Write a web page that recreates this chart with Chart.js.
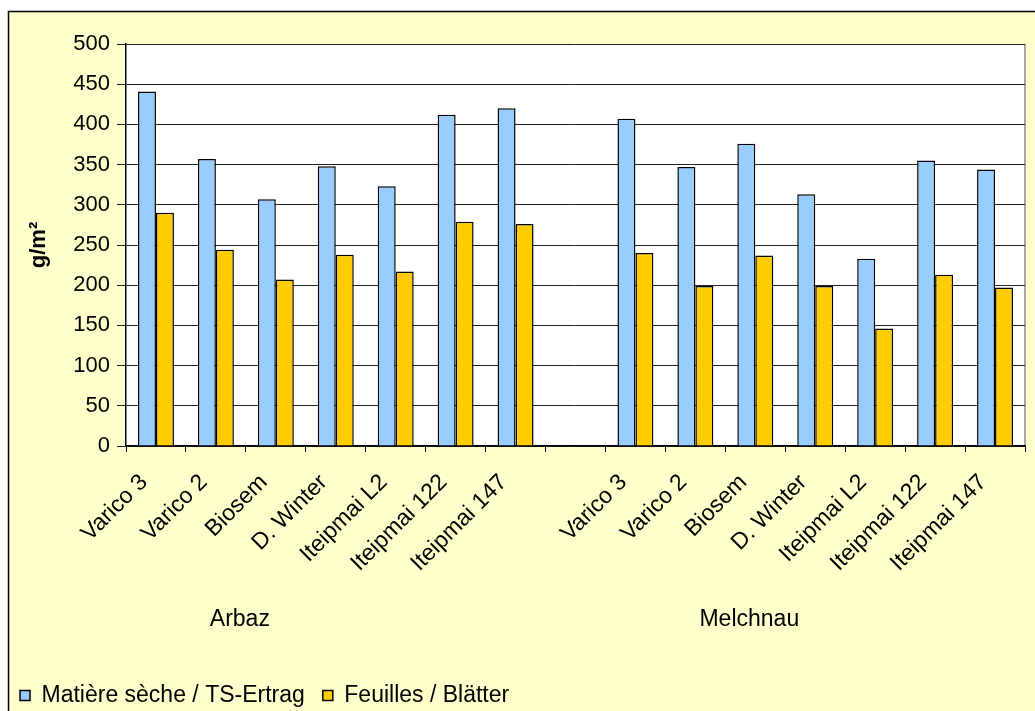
<!DOCTYPE html>
<html>
<head>
<meta charset="utf-8">
<script src="https://cdn.jsdelivr.net/npm/chart.js@4/dist/chart.umd.min.js"></script>
<style>
  html, body { margin: 0; padding: 0; background: #fff; }
  #wrap { position: absolute; left: 0; top: 0; width: 1035px; height: 711px; }
</style>
</head>
<body>
<div id="wrap"><canvas id="chart"></canvas></div>
<script>
const varieties = ['Varico 3', 'Varico 2', 'Biosem', 'D. Winter', 'Iteipmai L2', 'Iteipmai 122', 'Iteipmai 147'];
const sites = ['Arbaz', 'Melchnau'];
const labels = [...varieties, '', ...varieties];

const dryMatter = [441, 357, 307, 348, 323, 412, 420, null, 407, 347, 376, 313, 233, 355, 344];
const leaves    = [290, 244, 207, 238, 217, 279, 276, null, 240, 199, 237, 199, 146, 213, 197];

const FONT = 'Arial, "Liberation Sans", sans-serif';

const frame = {
  id: 'frame',
  beforeDraw(chart) {
    const { ctx, chartArea: a } = chart;
    ctx.save();
    ctx.fillStyle = '#fff';
    ctx.fillRect(0, 0, chart.width, chart.height);
    ctx.fillStyle = '#FFFFCC';
    ctx.fillRect(8, 11, chart.width, chart.height);
    ctx.strokeStyle = '#000';
    ctx.lineWidth = 1.5;
    ctx.beginPath();
    ctx.moveTo(8.5, chart.height);
    ctx.lineTo(8.5, 11.5);
    ctx.lineTo(chart.width, 11.5);
    ctx.stroke();
    ctx.fillStyle = '#fff';
    ctx.fillRect(a.left, a.top, a.right - a.left, a.bottom - a.top);
    ctx.strokeStyle = '#888';
    ctx.lineWidth = 1.5;
    ctx.beginPath();
    ctx.moveTo(a.right, a.top);
    ctx.lineTo(a.right, a.bottom);
    ctx.stroke();
    ctx.restore();
  }
};

const groupLabels = {
  id: 'groupLabels',
  afterDraw(chart, args, opts) {
    const { ctx } = chart;
    const x = chart.scales.x;
    ctx.save();
    ctx.font = '23px ' + FONT;
    ctx.fillStyle = '#000';
    ctx.textAlign = 'center';
    ctx.textBaseline = 'middle';
    sites.forEach((s, i) => {
      ctx.fillText(s, x.getPixelForValue(opts.at[i]), opts.y);
    });
    ctx.restore();
  }
};

new Chart(document.getElementById('chart'), {
  type: 'bar',
  data: {
    labels: labels,
    datasets: [
      { label: 'Matière sèche / TS-Ertrag', data: dryMatter, backgroundColor: '#99CCFF', borderColor: '#000', borderWidth: 1.5 },
      { label: 'Feuilles / Blätter', data: leaves, backgroundColor: '#FFCC00', borderColor: '#000', borderWidth: 1.5 }
    ]
  },
  plugins: [frame, groupLabels],
  options: {
    responsive: true,
    maintainAspectRatio: false,
    animation: false,
    devicePixelRatio: 1,
    layout: { padding: { top: 44, right: 10, left: 2, bottom: -6 } },
    datasets: { bar: { categoryPercentage: 0.6, barPercentage: 1.0 } },
    scales: {
      x: {
        afterFit: s => { s.height = 220; },
        grid: { display: true, drawOnChartArea: false, offset: true, color: '#000', tickLength: 6 },
        border: { color: '#000', width: 1.5 },
        ticks: { color: '#000', font: { family: FONT, size: 23 }, maxRotation: 45, minRotation: 45, autoSkip: false, padding: 17, labelOffset: -12 }
      },
      y: {
        min: 0, max: 500,
        afterFit: s => { s.width = 124; },
        ticks: { stepSize: 50, color: '#000', font: { family: FONT, size: 22 }, padding: 7 },
        grid: { color: '#222', lineWidth: 1, tickLength: 9 },
        border: { color: '#000', width: 1.5 },
        title: { display: true, text: 'g/m²', color: '#000', font: { family: FONT, size: 22, weight: 'bold' }, padding: { top: 24, bottom: 0 } }
      }
    },
    plugins: {
      legend: {
        position: 'bottom',
        align: 'start',
        labels: { color: '#000', font: { family: FONT, size: 23 }, boxWidth: 10, boxHeight: 10, padding: 18 }
      },
      tooltip: { enabled: false },
      groupLabels: { at: [1.4, 9.9], y: 620 }
    }
  }
});
</script>
</body>
</html>
